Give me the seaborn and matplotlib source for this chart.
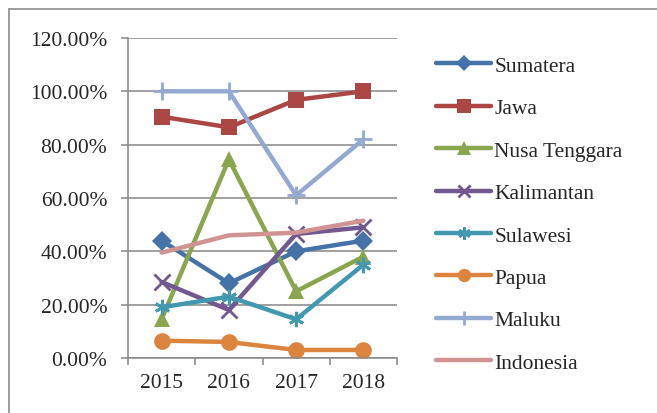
import numpy as np
import pandas as pd

import matplotlib
matplotlib.use('Agg')
import matplotlib.pyplot as plt
import matplotlib.patches as mpatches
import seaborn as sns

# Data (share, %)
years = ['2015', '2016', '2017', '2018']
regions = ['Sumatera', 'Jawa', 'Nusa Tenggara', 'Kalimantan',
           'Sulawesi', 'Papua', 'Maluku', 'Indonesia']
sumatera = [44.0, 28.0, 40.0, 44.0]
jawa = [90.5, 86.5, 96.8, 100.0]
nusa_tenggara = [14.5, 74.5, 25.0, 38.0]
kalimantan = [28.5, 18.0, 46.5, 49.0]
sulawesi = [19.0, 23.0, 14.5, 35.0]
papua = [6.5, 6.0, 3.0, 3.0]
maluku = [100.0, 100.0, 61.0, 82.0]
indonesia = [39.5, 46.0, 47.0, 51.5]
y_ticks = [0, 20, 40, 60, 80, 100, 120]

colors = ['#4572A7', '#AA4643', '#89A54E', '#71588F',
          '#4198AF', '#DB843D', '#93A9CF', '#D19392']
markers = ['D', 's', '^', 'x', (6, 2, 0), 'o', '+', '']
marker_sizes = [10, 12, 12, 11, 11, 12, 13, 0]


def main():
    series = [sumatera, jawa, nusa_tenggara, kalimantan,
              sulawesi, papua, maluku, indonesia]
    df = pd.DataFrame({
        'year_idx': np.tile(np.arange(len(years)), len(regions)),
        'region': np.repeat(regions, len(years)),
        'value': np.concatenate(series),
    })

    sns.set_style('white')
    plt.rcParams['font.family'] = ['Liberation Serif', 'DejaVu Serif']

    fig = plt.figure(figsize=(6.57, 4.14), dpi=100)
    ax = fig.add_axes([0.1948, 0.1329, 0.4095, 0.7729])

    for region, color, marker, ms in zip(regions, colors, markers, marker_sizes):
        sub = df[df['region'] == region]
        sns.lineplot(data=sub, x='year_idx', y='value', ax=ax, color=color,
                     linewidth=3.2, marker=marker if marker else None,
                     markersize=ms, markeredgewidth=2.0 if marker in ('x', '+', (6, 2, 0)) else 0,
                     markeredgecolor=color, label=region, clip_on=False,
                     solid_capstyle='round')

    # Axes, grid and ticks
    ax.set_xlim(-0.5, len(years) - 0.5)
    ax.set_ylim(0, 120)
    ax.set_yticks(y_ticks)
    ax.set_yticklabels([f'{v:.2f}%' for v in y_ticks])
    ax.set_xticks(np.arange(len(years)))
    ax.set_xticklabels(years)
    ax.set_xticks(np.arange(len(years) + 1) - 0.5, minor=True)
    ax.set_xlabel('')
    ax.set_ylabel('')
    ax.yaxis.grid(True, color='#868686', linewidth=1.1)
    ax.set_axisbelow(True)
    for side in ['top', 'right']:
        ax.spines[side].set_visible(False)
    for side in ['left', 'bottom']:
        ax.spines[side].set_color('#868686')
        ax.spines[side].set_linewidth(1.1)
    ax.tick_params(axis='y', which='major', length=5, width=1.1, color='#868686',
                   pad=10, labelsize=15.5, left=True)
    ax.tick_params(axis='x', which='major', length=0, pad=11, labelsize=15.5)
    ax.tick_params(axis='x', which='minor', length=5, width=1.1, color='#868686',
                   bottom=True)

    # Legend on the right
    ax.legend(loc='upper left', bbox_to_anchor=(0.651, 0.884),
              bbox_transform=fig.transFigure, frameon=False, fontsize=15.5,
              handlelength=2.55, handletextpad=0.15, labelspacing=1.04,
              borderaxespad=0, markerscale=0.8)

    # Chart-area border
    fig.patches.append(mpatches.Rectangle((0.0137, -0.05), 1.2, 0.977 + 0.05,
                                          transform=fig.transFigure, fill=False,
                                          edgecolor='#8C8C8C', linewidth=1.2))

    plt.savefig('out.png', dpi=100)
    plt.close()


if __name__ == '__main__':
    main()
